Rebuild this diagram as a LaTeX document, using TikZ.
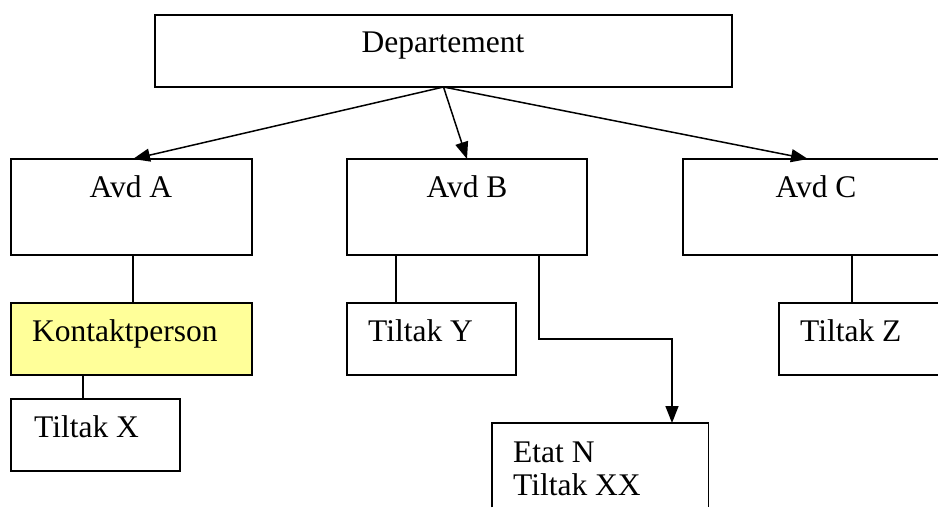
\documentclass[tikz,border=0pt]{standalone}
\usepackage{fontspec}
\setmainfont{Liberation Serif}
\usetikzlibrary{arrows.meta}
\definecolor{kyellow}{HTML}{FFFF99}
\tikzset{
  box/.style={draw=black, line width=1.5pt, rectangle, anchor=north west, inner sep=0pt, outer sep=0pt},
  txt/.style={font=\fontsize{31.5}{33}\selectfont, inner sep=0pt, text=black},
  conn/.style={draw=black, line width=1.5pt},
  arr/.style={conn, -{Triangle[length=17pt,width=13pt]}}
}
\begin{document}
\begin{tikzpicture}[x=1pt,y=-1pt]
\useasboundingbox (0,0) rectangle (938,516);
\fill[white] (0,0) rectangle (938,516);
% boxes
\node[box, minimum width=577pt, minimum height=72pt] (dep) at (155,15) {};
\node[box, minimum width=241pt, minimum height=96pt] (avdA) at (11,159) {};
\node[box, minimum width=240pt, minimum height=96pt] (avdB) at (347,159) {};
\begin{scope}
\clip (0,0) rectangle (938,516);
\node[box, minimum width=280pt, minimum height=96pt] (avdC) at (683,159) {};
\node[box, minimum width=180pt, minimum height=72pt] (tilZ) at (779,303) {};
\end{scope}
\node[box, fill=kyellow, minimum width=241pt, minimum height=72pt] (kontakt) at (11,303) {};
\node[box, minimum width=169pt, minimum height=72pt] (tilX) at (11,399) {};
\node[box, minimum width=169pt, minimum height=72pt] (tilY) at (347,303) {};
\node[anchor=north west, inner sep=0pt, minimum width=216pt, minimum height=84pt] (etat) at (492,423) {};
\draw[conn] (etat.south west) -- (etat.north west) -- (etat.north east) -- (etat.south east);
% texts
\node[txt, anchor=base] (depT) at (443,53) {Departement};
\node[txt, anchor=base] (avdAT) at (131,197) {Avd A};
\node[txt, anchor=base] (avdBT) at (467,197) {Avd B};
\node[txt, anchor=base] (avdCT) at (816,197) {Avd C};
\node[txt, anchor=base west] (kontaktT) at (32,341) {Kontaktperson};
\node[txt, anchor=base west] (tilXT) at (34,437) {Tiltak X};
\node[txt, anchor=base west] (tilYT) at (368,341) {Tiltak Y};
\node[txt, anchor=base west] (tilZT) at (800,341) {Tiltak Z};
\node[txt, anchor=base west] (etatT1) at (513,462) {Etat N};
\node[txt, anchor=base west] (etatT2) at (513,495) {Tiltak XX};
% connectors
\coordinate (src) at (dep.south -| 443.5,0);
\draw[arr] (src) -- (avdA.north west -| 133,0);
\draw[arr] (src) -- (avdB.north west -| 467,0);
\draw[arr] (src) -- (avdC.north west -| 808,0);
\draw[conn] (avdA.south west -| 133,0) -- (kontakt.north west -| 133,0);
\draw[conn] (kontakt.south west -| 83,0) -- (tilX.north west -| 83,0);
\draw[conn] (avdB.south west -| 396,0) -- (tilY.north west -| 396,0);
\draw[conn] (avdC.south west -| 852,0) -- (tilZ.north west -| 852,0);
\draw[arr] (avdB.south west -| 539,0) |- (672,339) -- (etat.north west -| 672,0);
\end{tikzpicture}
\end{document}
